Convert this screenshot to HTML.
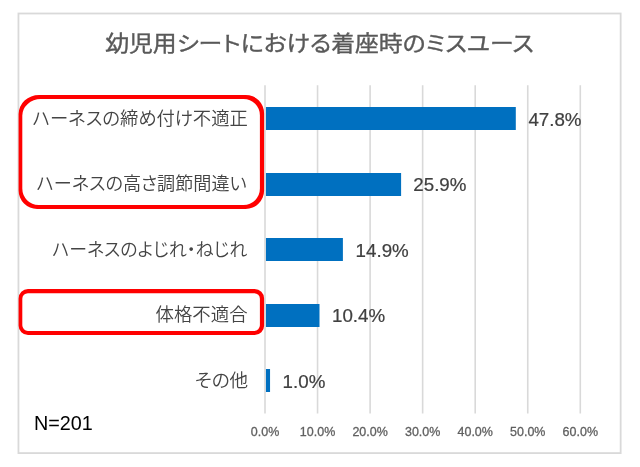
<!DOCTYPE html>
<html lang="ja">
<head>
<meta charset="utf-8">
<title>幼児用シートにおける着座時のミスユース</title>
<style>
html,body{margin:0;padding:0;background:#fff;}
body{width:640px;height:467px;overflow:hidden;position:relative;}
svg{position:absolute;left:0;top:0;display:block;}
.jp{font-family:"Liberation Sans","Noto Sans CJK JP",sans-serif;font-feature-settings:"palt" 1;}
.title{font-size:21.1px;fill:#595959;letter-spacing:0px;stroke:#595959;stroke-width:0.35px;}
.cat{font-size:18.6px;fill:#444444;font-weight:350;}
.val{font-family:"Liberation Sans",sans-serif;font-size:19.1px;fill:#404040;stroke:#404040;stroke-width:0.22px;}
.ax{font-family:"Liberation Sans",sans-serif;font-size:12.9px;fill:#606060;stroke:#606060;stroke-width:0.3px;}
.n{font-family:"Liberation Sans",sans-serif;font-size:19.8px;fill:#000;}
</style>
</head>
<body>
<svg width="640" height="467" viewBox="0 0 640 467">
  <rect x="0" y="0" width="640" height="467" fill="#ffffff"/>
  <!-- chart frame -->
  <rect x="18.45" y="13.5" width="602.2" height="439.6" fill="#ffffff" stroke="#d9d9d9" stroke-width="1.8"/>
  <!-- gridlines -->
  <g stroke="#d9d9d9" stroke-width="1.6" fill="none">
    <line x1="265.00" y1="85.3" x2="265.00" y2="413.4"/>
    <line x1="317.55" y1="85.3" x2="317.55" y2="413.4"/>
    <line x1="370.10" y1="85.3" x2="370.10" y2="413.4"/>
    <line x1="422.65" y1="85.3" x2="422.65" y2="413.4"/>
    <line x1="475.20" y1="85.3" x2="475.20" y2="413.4"/>
    <line x1="527.75" y1="85.3" x2="527.75" y2="413.4"/>
    <line x1="580.30" y1="85.3" x2="580.30" y2="413.4"/>
  </g>
  <!-- bars -->
  <g fill="#0070c0">
    <rect x="265.95" y="107" width="249.85" height="23"/>
    <rect x="265.95" y="173" width="135.15" height="23"/>
    <rect x="265.95" y="238" width="76.95" height="23"/>
    <rect x="265.95" y="304" width="53.55" height="23"/>
    <rect x="265.95" y="369" width="4.1" height="23"/>
  </g>
  <!-- title -->
  <text class="jp title" id="title" transform="translate(319.5 51.3) scale(1.131 1)" text-anchor="middle" textLength="379.08" lengthAdjust="spacingAndGlyphs">幼児用シートにおける着座時のミスユース</text>
  <!-- category labels -->
  <g class="jp cat" text-anchor="end">
    <text id="cat1" transform="translate(247.9 124.5) scale(0.987 1)" textLength="218.23" lengthAdjust="spacingAndGlyphs">ハーネスの締め付け不適正</text>
    <text id="cat2" transform="translate(246.6 190.2) scale(0.974 1)" textLength="215.61" lengthAdjust="spacingAndGlyphs">ハーネスの高さ調節間違い</text>
    <text id="cat3" transform="translate(247.2 256) scale(0.962 1)" textLength="202.67" lengthAdjust="spacingAndGlyphs">ハーネスのよじれ・ねじれ</text>
    <text id="cat4" transform="translate(247.6 320.8) scale(0.99 1)" textLength="92.98" lengthAdjust="spacingAndGlyphs">体格不適合</text>
    <text id="cat5" transform="translate(248.2 387) scale(1 1)" textLength="53.31" lengthAdjust="spacingAndGlyphs">その他</text>
  </g>
  <!-- value labels -->
  <g class="val">
    <text id="val1" transform="translate(528.4 126.2) scale(0.982 1)">47.8%</text>
    <text id="val2" transform="translate(413.3 191.4) scale(0.982 1)">25.9%</text>
    <text id="val3" transform="translate(355.6 257.3) scale(0.982 1)">14.9%</text>
    <text id="val4" transform="translate(332 321.9) scale(0.982 1)">10.4%</text>
    <text id="val5" transform="translate(282.6 388) scale(0.982 1)">1.0%</text>
  </g>
  <!-- axis labels -->
  <g class="ax" text-anchor="middle">
    <text transform="translate(265.00 435.7) scale(0.968 1)">0.0%</text>
    <text transform="translate(317.55 435.7) scale(0.968 1)">10.0%</text>
    <text transform="translate(370.10 435.7) scale(0.968 1)">20.0%</text>
    <text transform="translate(422.65 435.7) scale(0.968 1)">30.0%</text>
    <text transform="translate(475.20 435.7) scale(0.968 1)">40.0%</text>
    <text transform="translate(527.75 435.7) scale(0.968 1)">50.0%</text>
    <text transform="translate(580.30 435.7) scale(0.968 1)">60.0%</text>
  </g>
  <!-- sample size -->
  <text class="n" x="33.9" y="429.9">N=201</text>
  <!-- red highlight boxes -->
  <g fill="#ff0000" fill-rule="evenodd" stroke="none">
    <path d="M39.1 94.95H245.6A18.5 18.5 0 0 1 264.1 113.45V190.5A18.5 18.5 0 0 1 245.6 209H37.1A18.5 18.5 0 0 1 18.6 190.5V113.95A20.5 19 0 0 1 39.1 94.95Z M40.8 99.05H243.6A16.3 16.3 0 0 1 259.9 115.35V188.6A16.3 16.3 0 0 1 243.6 204.9H38.6A16.3 16.3 0 0 1 22.3 188.6V115.55A18.5 16.5 0 0 1 40.8 99.05Z"/>
    <path d="M28 289H254.7A9.4 9.4 0 0 1 264.1 298.4V325.65A9.4 9.4 0 0 1 254.7 335.05H28A9.4 9.4 0 0 1 18.6 325.65V298.4A9.4 9.4 0 0 1 28 289Z M27.9 293.2H254.3A5.6 5.6 0 0 1 259.9 298.8V325.35A5.6 5.6 0 0 1 254.3 330.95H27.9A5.6 5.6 0 0 1 22.3 325.35V298.8A5.6 5.6 0 0 1 27.9 293.2Z"/>
  </g>
</svg>
</body>
</html>
